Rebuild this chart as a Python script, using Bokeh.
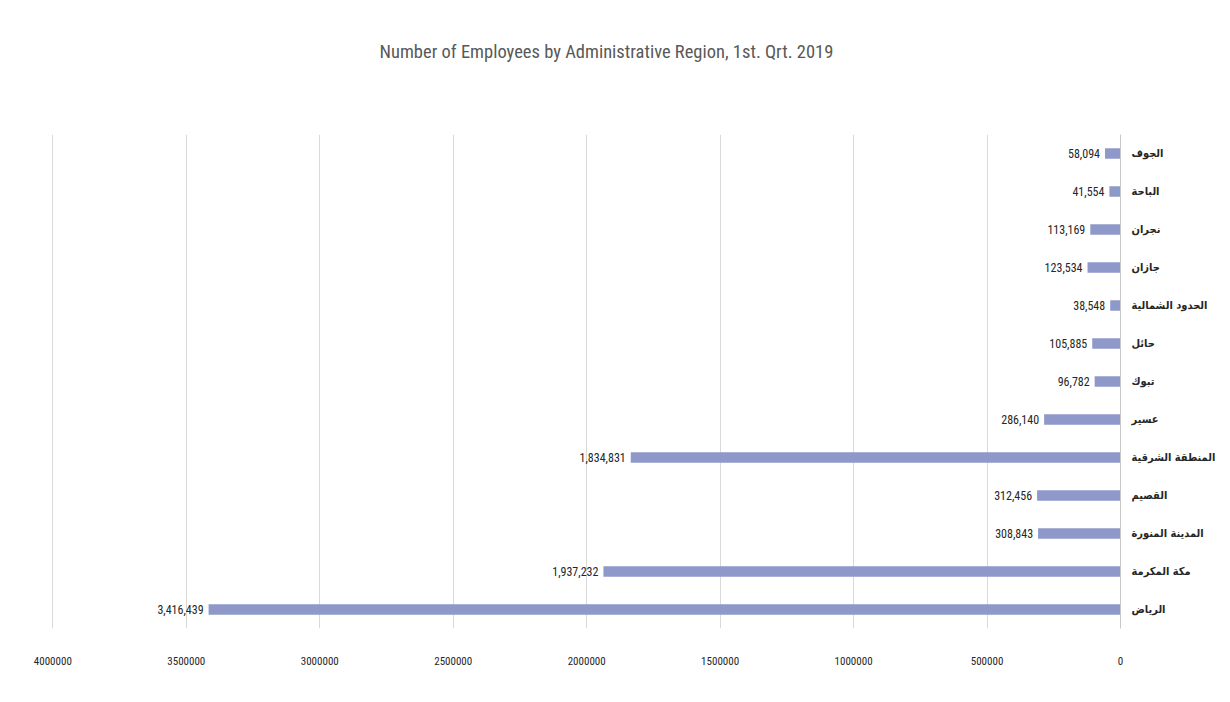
from bokeh.plotting import figure
from bokeh.models import Range1d, FixedTicker, ColumnDataSource, BasicTickFormatter, Title
from bokeh.core.properties import value
from bokeh.embed import file_html
from bokeh.resources import INLINE

# Data (bottom to top)
regions = ["الرياض", "مكة المكرمة", "المدينة المنورة", "القصيم", "المنطقة الشرقية",
           "عسير", "تبوك", "حائل", "الحدود الشمالية", "جازان", "نجران", "الباحة", "الجوف"]
employees = [3416439, 1937232, 308843, 312456, 1834831,
             286140, 96782, 105885, 38548, 123534, 113169, 41554, 58094]
x_ticks = [0, 500000, 1000000, 1500000, 2000000, 2500000, 3000000, 3500000, 4000000]
title_text = "Number of Employees by Administrative Region, 1st. Qrt. 2019"

labels = [f"{v:,}" for v in employees]
src = ColumnDataSource(dict(region=regions, emp=employees, lab=labels))

NARROW = "'Roboto Condensed', 'DejaVu Sans Condensed', 'Liberation Sans Narrow', 'Liberation Sans', sans-serif"
ARABIC = "'DejaVu Sans Condensed', 'DejaVu Sans', sans-serif"

W, H = 1228, 700
p = figure(width=W, height=H, y_range=regions, x_range=Range1d(4020000, 0),
           output_backend="svg", toolbar_location=None, y_axis_location="right",
           title=None,
           min_border_left=47, min_border_right=W - 1120, min_border_top=134,
           min_border_bottom=H - 628)

# spacer between frame and title, then the title itself
spacer = Title(text=" ", text_font=NARROW, text_font_size="18.5px", standoff=48)
p.add_layout(spacer, "above")
main_title = Title(text=title_text, align="left", offset=332, text_font=NARROW,
                   text_font_size="18.5px", text_font_style="normal",
                   text_color="#595959", standoff=0)
p.add_layout(main_title, "above")

p.outline_line_color = None
p.background_fill_color = "white"

p.hbar(y="region", right="emp", left=0, height=0.27, source=src,
       fill_color="#8E99C9", line_color=None)

p.text(x="emp", y="region", text="lab", source=src, x_offset=-5,
       text_align="right", text_baseline="middle",
       text_font=value(NARROW),
       text_font_size="12px", text_color="#262626")

# x axis
xa = p.xaxis[0]
xa.ticker = FixedTicker(ticks=x_ticks)
xa.formatter = BasicTickFormatter(use_scientific=False)
xa.axis_line_color = None
xa.major_tick_line_color = None
xa.minor_tick_line_color = None
xa.major_label_standoff = 22
xa.major_label_text_font = NARROW
xa.major_label_text_font_size = "11px"
xa.major_label_text_color = "#262626"

# y axis (right)
ya = p.yaxis[0]
ya.axis_line_color = "#c8c8c8"
ya.major_tick_line_color = None
ya.minor_tick_line_color = None
ya.major_label_standoff = 5
ya.major_label_text_font = ARABIC
ya.major_label_text_font_style = "bold"
ya.major_label_text_font_size = "11px"
ya.major_label_text_color = "#262626"

p.xgrid.ticker = FixedTicker(ticks=x_ticks)
p.xgrid.grid_line_color = "#d9d9d9"
p.ygrid.grid_line_color = None

open("out.html", "w").write(file_html(p, INLINE))
